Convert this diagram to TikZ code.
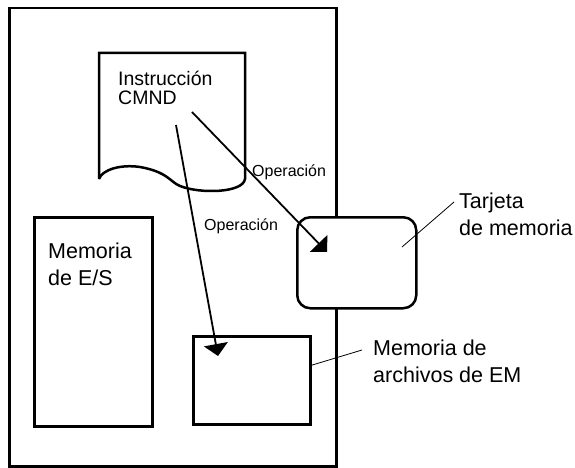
\documentclass[tikz,border=0pt]{standalone}
\usepackage{fontspec}
\setmainfont{Liberation Sans}
\usetikzlibrary{arrows.meta}

\begin{document}
\begin{tikzpicture}[x=1pt, y=-1pt, >={Triangle[length=12pt, width=24pt]},
    box/.style={draw, line width=2.5pt, inner sep=0pt, anchor=north west},
    lead/.style={line width=0.8pt},
    big/.style={font=\fontsize{21.5}{27}\selectfont, align=left, inner sep=0pt, anchor=base west},
    small/.style={font=\fontsize{16}{18}\selectfont, inner sep=0pt}]
  \useasboundingbox (0,0) rectangle (575,468);
  % CPU unit outline
  \node[box, minimum width=327pt, minimum height=458pt] (cpu) at (8,7) {};
  % I/O memory
  \node[box, minimum width=118pt, minimum height=209pt] (iomem) at (33,216) {};
  \node[big] (iotext) at (48,285) {Memoria\\de E/S};
  % EM file memory
  \node[box, minimum width=117pt, minimum height=88pt] (emfile) at (192,335) {};
  % Memory card
  \node[box, fill=white, rounded corners=13pt, minimum width=119pt, minimum height=91pt] (card) at (296,216) {};
  % CMND instruction (document shape)
  \draw[line width=2.5pt, fill=white] (99,179) -- (99,53) -- (245,53) -- (245,179)
    .. controls (243,193) and (200,194) .. (180,186)
    .. controls (170,182) and (168,172) .. (140,167)
    .. controls (120,164) and (102,170) .. (99,179);
  \node[font=\fontsize{19.5}{19.5}\selectfont, align=left, inner sep=0pt, anchor=base west] (cmnd) at (118,105) {Instrucción\\CMND};
  % Operations
  \coordinate (op1s) at (192,112);
  \coordinate (op2s) at (176,125);
  \coordinate (op1e) at ([shift={(31,36)}]card.north west);
  \coordinate (op2e) at ([shift={(26,21)}]emfile.north west);
  \draw[->, line width=1.8pt] (op1s) -- (op1e);
  \draw[->, line width=1.8pt] (op2s) -- (op2e);
  \node[small, anchor=base west] (op1) at (252,176) {Operación};
  \node[small, anchor=base west] (op2) at (204,230) {Operación};
  % Labels
  \node[big] (cardlbl) at (459,235) {Tarjeta\\de memoria};
  \node[big] (emlbl) at (373,382) {Memoria de\\archivos de EM};
  \coordinate (cardpt) at (402,247);
  \coordinate (cardend) at (454,202);
  \draw[lead] (cardpt) -- (cardend);
  \coordinate (emend) at (362,350);
  \draw[lead] (emfile.east) ++(0,-15) -- (emend);
\end{tikzpicture}
\end{document}
